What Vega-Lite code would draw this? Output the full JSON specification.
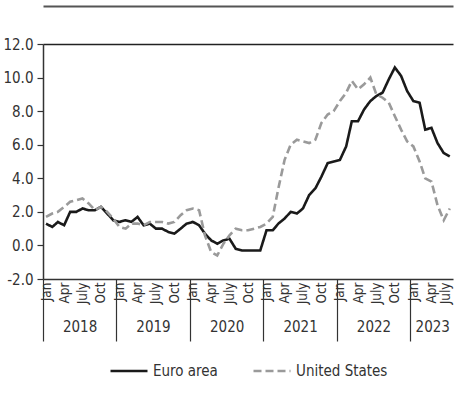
{
  "$schema": "https://vega.github.io/schema/vega-lite/v6.json",
  "width": 410,
  "height": 235,
  "autosize": "none",
  "padding": {"left": 43, "top": 44, "right": 1, "bottom": 125},
  "background": "white",
  "config": {
    "font": "'DejaVu Sans Condensed', 'Liberation Sans Narrow', 'Liberation Sans', sans-serif",
    "view": {"stroke": null},
    "legend": {"layout": {"bottom": {"anchor": "middle"}}}
  },
  "data": {"values": [
    {"date":"2018-01-16","series":"Euro area","value":1.3},{"date":"2018-02-16","series":"Euro area","value":1.1},{"date":"2018-03-16","series":"Euro area","value":1.4},{"date":"2018-04-16","series":"Euro area","value":1.2},{"date":"2018-05-16","series":"Euro area","value":2.0},{"date":"2018-06-16","series":"Euro area","value":2.0},{"date":"2018-07-16","series":"Euro area","value":2.2},{"date":"2018-08-16","series":"Euro area","value":2.1},{"date":"2018-09-16","series":"Euro area","value":2.1},{"date":"2018-10-16","series":"Euro area","value":2.3},{"date":"2018-11-16","series":"Euro area","value":1.9},{"date":"2018-12-16","series":"Euro area","value":1.5},
    {"date":"2019-01-16","series":"Euro area","value":1.4},{"date":"2019-02-16","series":"Euro area","value":1.5},{"date":"2019-03-16","series":"Euro area","value":1.4},{"date":"2019-04-16","series":"Euro area","value":1.7},{"date":"2019-05-16","series":"Euro area","value":1.2},{"date":"2019-06-16","series":"Euro area","value":1.3},{"date":"2019-07-16","series":"Euro area","value":1.0},{"date":"2019-08-16","series":"Euro area","value":1.0},{"date":"2019-09-16","series":"Euro area","value":0.8},{"date":"2019-10-16","series":"Euro area","value":0.7},{"date":"2019-11-16","series":"Euro area","value":1.0},{"date":"2019-12-16","series":"Euro area","value":1.3},
    {"date":"2020-01-16","series":"Euro area","value":1.4},{"date":"2020-02-16","series":"Euro area","value":1.2},{"date":"2020-03-16","series":"Euro area","value":0.7},{"date":"2020-04-16","series":"Euro area","value":0.3},{"date":"2020-05-16","series":"Euro area","value":0.1},{"date":"2020-06-16","series":"Euro area","value":0.3},{"date":"2020-07-16","series":"Euro area","value":0.4},{"date":"2020-08-16","series":"Euro area","value":-0.2},{"date":"2020-09-16","series":"Euro area","value":-0.3},{"date":"2020-10-16","series":"Euro area","value":-0.3},{"date":"2020-11-16","series":"Euro area","value":-0.3},{"date":"2020-12-16","series":"Euro area","value":-0.3},
    {"date":"2021-01-16","series":"Euro area","value":0.9},{"date":"2021-02-16","series":"Euro area","value":0.9},{"date":"2021-03-16","series":"Euro area","value":1.3},{"date":"2021-04-16","series":"Euro area","value":1.6},{"date":"2021-05-16","series":"Euro area","value":2.0},{"date":"2021-06-16","series":"Euro area","value":1.9},{"date":"2021-07-16","series":"Euro area","value":2.2},{"date":"2021-08-16","series":"Euro area","value":3.0},{"date":"2021-09-16","series":"Euro area","value":3.4},{"date":"2021-10-16","series":"Euro area","value":4.1},{"date":"2021-11-16","series":"Euro area","value":4.9},{"date":"2021-12-16","series":"Euro area","value":5.0},
    {"date":"2022-01-16","series":"Euro area","value":5.1},{"date":"2022-02-16","series":"Euro area","value":5.9},{"date":"2022-03-16","series":"Euro area","value":7.4},{"date":"2022-04-16","series":"Euro area","value":7.4},{"date":"2022-05-16","series":"Euro area","value":8.1},{"date":"2022-06-16","series":"Euro area","value":8.6},{"date":"2022-07-16","series":"Euro area","value":8.9},{"date":"2022-08-16","series":"Euro area","value":9.1},{"date":"2022-09-16","series":"Euro area","value":9.9},{"date":"2022-10-16","series":"Euro area","value":10.6},{"date":"2022-11-16","series":"Euro area","value":10.1},{"date":"2022-12-16","series":"Euro area","value":9.2},
    {"date":"2023-01-16","series":"Euro area","value":8.6},{"date":"2023-02-16","series":"Euro area","value":8.5},{"date":"2023-03-16","series":"Euro area","value":6.9},{"date":"2023-04-16","series":"Euro area","value":7.0},{"date":"2023-05-16","series":"Euro area","value":6.1},{"date":"2023-06-16","series":"Euro area","value":5.5},{"date":"2023-07-16","series":"Euro area","value":5.3},
    {"date":"2018-01-16","series":"United States","value":1.7},{"date":"2018-02-16","series":"United States","value":1.9},{"date":"2018-03-16","series":"United States","value":2.0},{"date":"2018-04-16","series":"United States","value":2.3},{"date":"2018-05-16","series":"United States","value":2.6},{"date":"2018-06-16","series":"United States","value":2.7},{"date":"2018-07-16","series":"United States","value":2.8},{"date":"2018-08-16","series":"United States","value":2.5},{"date":"2018-09-16","series":"United States","value":2.1},{"date":"2018-10-16","series":"United States","value":2.3},{"date":"2018-11-16","series":"United States","value":2.0},{"date":"2018-12-16","series":"United States","value":1.6},
    {"date":"2019-01-16","series":"United States","value":1.1},{"date":"2019-02-16","series":"United States","value":1.0},{"date":"2019-03-16","series":"United States","value":1.3},{"date":"2019-04-16","series":"United States","value":1.3},{"date":"2019-05-16","series":"United States","value":1.2},{"date":"2019-06-16","series":"United States","value":1.4},{"date":"2019-07-16","series":"United States","value":1.4},{"date":"2019-08-16","series":"United States","value":1.4},{"date":"2019-09-16","series":"United States","value":1.3},{"date":"2019-10-16","series":"United States","value":1.4},{"date":"2019-11-16","series":"United States","value":1.8},{"date":"2019-12-16","series":"United States","value":2.1},
    {"date":"2020-01-16","series":"United States","value":2.2},{"date":"2020-02-16","series":"United States","value":2.1},{"date":"2020-03-16","series":"United States","value":0.6},{"date":"2020-04-16","series":"United States","value":-0.4},{"date":"2020-05-16","series":"United States","value":-0.6},{"date":"2020-06-16","series":"United States","value":0.1},{"date":"2020-07-16","series":"United States","value":0.6},{"date":"2020-08-16","series":"United States","value":1.0},{"date":"2020-09-16","series":"United States","value":0.9},{"date":"2020-10-16","series":"United States","value":0.9},{"date":"2020-11-16","series":"United States","value":1.0},{"date":"2020-12-16","series":"United States","value":1.1},
    {"date":"2021-01-16","series":"United States","value":1.3},{"date":"2021-02-16","series":"United States","value":1.7},{"date":"2021-03-16","series":"United States","value":3.4},{"date":"2021-04-16","series":"United States","value":5.1},{"date":"2021-05-16","series":"United States","value":6.0},{"date":"2021-06-16","series":"United States","value":6.3},{"date":"2021-07-16","series":"United States","value":6.2},{"date":"2021-08-16","series":"United States","value":6.1},{"date":"2021-09-16","series":"United States","value":6.3},{"date":"2021-10-16","series":"United States","value":7.3},{"date":"2021-11-16","series":"United States","value":7.8},{"date":"2021-12-16","series":"United States","value":8.0},
    {"date":"2022-01-16","series":"United States","value":8.6},{"date":"2022-02-16","series":"United States","value":9.1},{"date":"2022-03-16","series":"United States","value":9.8},{"date":"2022-04-16","series":"United States","value":9.3},{"date":"2022-05-16","series":"United States","value":9.6},{"date":"2022-06-16","series":"United States","value":10.0},{"date":"2022-07-16","series":"United States","value":9.0},{"date":"2022-08-16","series":"United States","value":8.8},{"date":"2022-09-16","series":"United States","value":8.5},{"date":"2022-10-16","series":"United States","value":7.7},{"date":"2022-11-16","series":"United States","value":6.9},{"date":"2022-12-16","series":"United States","value":6.2},
    {"date":"2023-01-16","series":"United States","value":5.9},{"date":"2023-02-16","series":"United States","value":5.0},{"date":"2023-03-16","series":"United States","value":4.0},{"date":"2023-04-16","series":"United States","value":3.8},{"date":"2023-05-16","series":"United States","value":2.4},{"date":"2023-06-16","series":"United States","value":1.5},{"date":"2023-07-16","series":"United States","value":2.2}
  ]},
  "encoding": {
    "y": {
      "field": "value", "type": "quantitative",
      "scale": {"domain": [-2, 12], "nice": false, "zero": false},
      "axis": {
        "title": null,
        "values": [-2, 0, 2, 4, 6, 8, 10, 12],
        "labelExpr": "(datum.value < 0 ? '-' : '') + format(abs(datum.value), '.1f')",
        "labelFontSize": 15, "labelColor": "#333", "labelPadding": 4,
        "tickSize": 6, "tickColor": "#333", "tickWidth": 1.2,
        "domainColor": "#333", "domainWidth": 1.5,
        "grid": true,
        "gridOpacity": {"condition": {"test": "datum.value === 12", "value": 1}, "value": 0},
        "gridColor": "#222", "gridWidth": 1.5
      }
    }
  },
  "layer": [
    {
      "mark": {"type": "line", "strokeWidth": 2.6},
      "encoding": {
        "x": {
          "field": "date", "type": "temporal",
          "scale": {"type": "utc", "domain": [{"year": 2018, "month": 1, "date": 1, "utc": true}, {"year": 2023, "month": 8, "date": 1, "utc": true}]},
          "axis": {
            "orient": "bottom", "title": null, "grid": false,
            "values": [
              {"year": 2018, "month": 1, "date": 1, "utc": true}, {"year": 2018, "month": 1, "date": 16, "utc": true}, {"year": 2018, "month": 4, "date": 16, "utc": true}, {"year": 2018, "month": 7, "date": 16, "utc": true}, {"year": 2018, "month": 10, "date": 16, "utc": true},
              {"year": 2019, "month": 1, "date": 1, "utc": true}, {"year": 2019, "month": 1, "date": 16, "utc": true}, {"year": 2019, "month": 4, "date": 16, "utc": true}, {"year": 2019, "month": 7, "date": 16, "utc": true}, {"year": 2019, "month": 10, "date": 16, "utc": true},
              {"year": 2020, "month": 1, "date": 1, "utc": true}, {"year": 2020, "month": 1, "date": 16, "utc": true}, {"year": 2020, "month": 4, "date": 16, "utc": true}, {"year": 2020, "month": 7, "date": 16, "utc": true}, {"year": 2020, "month": 10, "date": 16, "utc": true},
              {"year": 2021, "month": 1, "date": 1, "utc": true}, {"year": 2021, "month": 1, "date": 16, "utc": true}, {"year": 2021, "month": 4, "date": 16, "utc": true}, {"year": 2021, "month": 7, "date": 16, "utc": true}, {"year": 2021, "month": 10, "date": 16, "utc": true},
              {"year": 2022, "month": 1, "date": 1, "utc": true}, {"year": 2022, "month": 1, "date": 16, "utc": true}, {"year": 2022, "month": 4, "date": 16, "utc": true}, {"year": 2022, "month": 7, "date": 16, "utc": true}, {"year": 2022, "month": 10, "date": 16, "utc": true},
              {"year": 2023, "month": 1, "date": 1, "utc": true}, {"year": 2023, "month": 1, "date": 16, "utc": true}, {"year": 2023, "month": 4, "date": 16, "utc": true}, {"year": 2023, "month": 7, "date": 16, "utc": true}
            ],
            "labelExpr": "utcdate(datum.value) === 1 ? '' : (utcmonth(datum.value) === 0 ? 'Jan' : utcmonth(datum.value) === 3 ? 'Apr' : utcmonth(datum.value) === 6 ? 'July' : 'Oct')",
            "labelAngle": -90, "labelFontSize": 13.5, "labelColor": "#333",
            "labelOverlap": false, "labelFlush": false, "labelBound": false,
            "labelOffset": {"condition": {"test": "utcyear(datum.value) === 2023 && utcmonth(datum.value) === 6", "value": -4}, "value": 0},
            "tickSize": 62, "tickColor": "#333", "tickWidth": 1.2,
            "tickOpacity": {"condition": {"test": "utcdate(datum.value) === 1", "value": 1}, "value": 0},
            "labelPadding": -59,
            "domainColor": "#333", "domainWidth": 1.5
          }
        },
        "color": {
          "field": "series", "type": "nominal",
          "scale": {"domain": ["Euro area", "United States"], "range": ["#1a1a1a", "#9a9a9a"]},
          "legend": {"orient": "bottom", "direction": "horizontal", "title": null, "symbolType": "stroke", "symbolSize": 1369, "symbolStrokeWidth": 2.5, "labelFontSize": 15, "labelColor": "#333", "columnPadding": 30, "offset": 9, "labelLimit": 200}
        },
        "strokeDash": {
          "field": "series", "type": "nominal",
          "scale": {"domain": ["Euro area", "United States"], "range": [[1, 0], [8, 4]]}
        }
      }
    },
    {
      "mark": {"type": "line", "opacity": 0},
      "encoding": {
        "detail": {"field": "series", "type": "nominal"},
        "x": {
          "field": "date", "type": "temporal",
          "axis": {
            "orient": "bottom", "title": null, "grid": false, "ticks": false, "domain": false,
            "values": [
              {"year": 2018, "month": 7, "date": 2, "utc": true}, {"year": 2019, "month": 7, "date": 2, "utc": true}, {"year": 2020, "month": 7, "date": 2, "utc": true}, {"year": 2021, "month": 7, "date": 2, "utc": true}, {"year": 2022, "month": 7, "date": 2, "utc": true}, {"year": 2023, "month": 4, "date": 20, "utc": true}
            ],
            "labelExpr": "'' + utcyear(datum.value)",
            "labelAngle": 0, "labelFontSize": 15, "labelColor": "#333", "labelPadding": 40,
            "labelOverlap": false, "labelFlush": false, "labelBound": false
          }
        }
      }
    },
    {
      "mark": {"type": "line", "opacity": 0},
      "encoding": {
        "detail": {"field": "series", "type": "nominal"},
        "x": {
          "field": "date", "type": "temporal",
          "axis": {"orient": "top", "title": null, "grid": false, "ticks": false, "labels": false, "domain": true, "domainColor": "#555", "domainWidth": 2, "offset": 38}
        }
      }
    }
  ],
  "resolve": {"axis": {"x": "independent"}}
}
